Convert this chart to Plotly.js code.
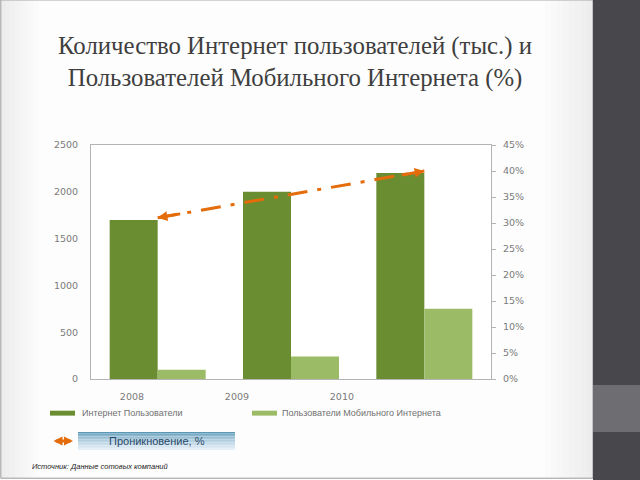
<!DOCTYPE html>
<html>
<head>
<meta charset="utf-8">
<script src="https://cdn.plot.ly/plotly-3.0.1.min.js"></script>
<style>html,body{margin:0;padding:0;background:#fff;}#chart{width:640px;height:480px;}</style>
</head>
<body>
<div id="chart"></div>
<script>
// ---- data ----
var years = ['2008', '2009', '2010'];
var internetUsers = [1700, 2000, 2200];          // тыс.
var mobileUsers = [100, 240, 750];                // тыс.
var penetration = [31, 35.5, 40];                 // %
var yearTickLabels = ['2008', '2009', '2010'];
var legendNames = ['Интернет Пользователи', 'Пользователи Мобильного Интернета', 'Проникновение, %'];
var titleText = 'Количество Интернет пользователей (тыс.) и<br>Пользователей Мобильного Интернета (%)';
var sourceText = 'Источник: Данные сотовых компаний';

// ---- styles ----
var darkGreen = '#6a8d31';
var lightGreen = '#9cbb66';
var orange = '#e46c0a';
var tickFont = {family: 'DejaVu Sans, Verdana, sans-serif', size: 9.5, color: '#7a7a7a'};
var axisLine = '#b4b4b4';

var traces = [
  {type: 'bar', x: years, y: internetUsers, name: legendNames[0],
   marker: {color: darkGreen}, xaxis: 'x', yaxis: 'y', hoverinfo: 'y'},
  {type: 'bar', x: years, y: mobileUsers, name: legendNames[1],
   marker: {color: lightGreen}, xaxis: 'x', yaxis: 'y', hoverinfo: 'y'},
  {type: 'scatter', mode: 'lines', x: years, y: penetration, name: legendNames[2],
   line: {color: orange, width: 3, dash: '20px,10px,4px,10px'}, xaxis: 'x', yaxis: 'y2'},
  // helper to draw the year tick labels axis
  {type: 'scatter', mode: 'markers', x: yearTickLabels.map(function(_, i){return i;}),
   y: yearTickLabels.map(function(){return null;}), xaxis: 'x2', yaxis: 'y',
   hoverinfo: 'skip', showlegend: false, marker: {opacity: 0}}
];

// arrowheads at both ends of the penetration line
function frac(a, b, t){ return a + (b - a) * t; }
var n = penetration.length;
var annotations = [
  {xref: 'x', yref: 'y2', axref: 'x', ayref: 'y2',
   x: 0, y: penetration[0], ax: 0.18, ay: frac(penetration[0], penetration[1], 0.18),
   showarrow: true, arrowhead: 2, arrowsize: 0.65, arrowwidth: 3, arrowcolor: orange, text: ''},
  {xref: 'x', yref: 'y2', axref: 'x', ayref: 'y2',
   x: n - 1, y: penetration[n - 1], ax: n - 1 - 0.18, ay: frac(penetration[n - 1], penetration[n - 2], 0.18),
   showarrow: true, arrowhead: 2, arrowsize: 0.65, arrowwidth: 3, arrowcolor: orange, text: ''},
  // legend labels
  {xref: 'paper', yref: 'paper', x: -0.027, y: -0.147, xanchor: 'left', yanchor: 'middle',
   text: legendNames[0], showarrow: false, font: {family: 'Liberation Sans, Arial, sans-serif', size: 9, color: '#707070'}},
  {xref: 'paper', yref: 'paper', x: 0.472, y: -0.147, xanchor: 'left', yanchor: 'middle',
   text: legendNames[1], showarrow: false, font: {family: 'Liberation Sans, Arial, sans-serif', size: 9, color: '#707070'}},
  {xref: 'paper', yref: 'paper', x: 0.165, y: -0.265, xanchor: 'center', yanchor: 'middle',
   text: legendNames[2], showarrow: false, font: {family: 'Liberation Sans, Arial, sans-serif', size: 11, color: '#2a4a6a'}},
  // legend double arrow
  {xref: 'paper', yref: 'paper', x: -0.045, y: -0.265, axref: 'pixel', ayref: 'pixel', ax: -21, ay: 0,
   showarrow: true, arrowside: 'end+start', arrowhead: 2, arrowsize: 0.6, arrowwidth: 3, arrowcolor: orange, text: ''},
  // source
  {xref: 'paper', yref: 'paper', x: -0.1525, y: -0.375, xanchor: 'left', yanchor: 'middle',
   text: sourceText, showarrow: false,
   font: {family: 'Liberation Sans, Arial, sans-serif', size: 7.5, color: '#222222', style: 'italic'}}
];

var shapes = [];
// soft grey shading toward the slide edges
(function(){
  var steps = 8;
  for (var i = 0; i < steps; i++) {
    shapes.push({type: 'rect', xref: 'paper', yref: 'paper', x0: -0.2255, x1: -0.2255 + 0.012 * (i + 1),
      y0: -0.424, y1: 1.62, line: {width: 0}, fillcolor: 'rgba(0,0,0,0.006)', layer: 'below'});
    shapes.push({type: 'rect', xref: 'paper', yref: 'paper', x0: 1.255 - 0.015 * (i + 1), x1: 1.255,
      y0: -0.424, y1: 1.62, line: {width: 0}, fillcolor: 'rgba(0,0,0,0.008)', layer: 'below'});
  }
})();
shapes = shapes.concat([
  // slide frame
  {type: 'rect', xref: 'paper', yref: 'paper', x0: -0.2255, x1: 1.255, y0: -0.424, y1: 1.62,
   line: {color: '#9a9a9a', width: 1}, fillcolor: 'rgba(0,0,0,0)', layer: 'below'},
  // right dark panel
  {type: 'rect', xref: 'paper', yref: 'paper', x0: 1.255, x1: 1.4, y0: -0.46, y1: 1.65,
   line: {width: 0}, fillcolor: '#48474c', layer: 'below'},
  {type: 'rect', xref: 'paper', yref: 'paper', x0: 1.255, x1: 1.4, y0: -0.2265, y1: -0.0256,
   line: {width: 0}, fillcolor: '#6e6d72', layer: 'below'},
  // legend swatches
  {type: 'rect', xref: 'paper', yref: 'paper', x0: -0.1025, x1: -0.04, y0: -0.1565, y1: -0.1355,
   line: {width: 0}, fillcolor: darkGreen},
  {type: 'rect', xref: 'paper', yref: 'paper', x0: 0.4025, x1: 0.465, y0: -0.1565, y1: -0.1355,
   line: {width: 0}, fillcolor: lightGreen}
]);

// blue gradient box for "Проникновение, %"
(function(){
  var top = [90, 152, 182], bot = [228, 238, 247];
  var y0 = -0.3034, y1 = -0.2265, steps = 12;
  for (var i = 0; i < steps; i++) {
    var t = i / (steps - 1);
    var c = top.map(function(v, k){ return Math.round(v + (bot[k] - v) * Math.pow(t, 0.6)); });
    shapes.push({type: 'rect', xref: 'paper', yref: 'paper', x0: -0.0325, x1: 0.36,
      y1: y1 - (y1 - y0) * i / steps, y0: y1 - (y1 - y0) * (i + 1) / steps,
      line: {width: 0}, fillcolor: 'rgb(' + c.join(',') + ')', layer: 'below'});
  }
})();

var layout = {
  width: 640, height: 480,
  margin: {l: 91, r: 149, t: 145, b: 101},
  paper_bgcolor: '#fdfdfd', plot_bgcolor: '#ffffff',
  showlegend: false,
  barmode: 'group', bargap: 0.28, bargroupgap: 0,
  title: {text: titleText, x: 0.461, xref: 'container', xanchor: 'center',
          y: 0.888, yref: 'container', yanchor: 'middle',
          font: {family: 'Liberation Serif, Times New Roman, serif', size: 24.8, color: '#3f3f3f'}},
  xaxis: {type: 'category', showticklabels: false, ticks: '', showgrid: false,
          showline: true, mirror: true, linecolor: axisLine, linewidth: 1, zeroline: false},
  xaxis2: {overlaying: 'x', anchor: 'y', type: 'linear', range: [-0.39, 3.42],
           tickvals: [0, 1, 2], ticktext: yearTickLabels, showgrid: false, zeroline: false,
           showline: false, ticks: '', tickfont: tickFont, ticklabelstandoff: 10, side: 'bottom'},
  yaxis: {range: [0, 2500], dtick: 500, showgrid: false, zeroline: false, showline: true,
          linecolor: axisLine, linewidth: 1, ticks: '', tickfont: tickFont, ticklabelstandoff: 10},
  yaxis2: {range: [0, 45], dtick: 5, ticksuffix: '%', overlaying: 'y', side: 'right',
           showgrid: false, zeroline: false, showline: true, linecolor: axisLine, linewidth: 1,
           ticks: 'outside', ticklen: 4, tickcolor: axisLine, tickfont: tickFont, ticklabelstandoff: 5},
  annotations: annotations,
  shapes: shapes
};

Plotly.newPlot('chart', traces, layout, {staticPlot: true, displayModeBar: false});
</script>
</body>
</html>
